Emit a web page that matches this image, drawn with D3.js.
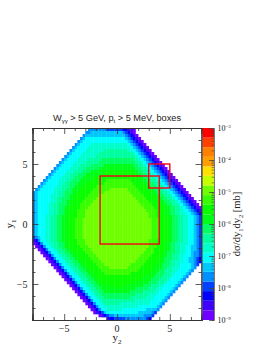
<!DOCTYPE html>
<html lang="en">
  <head>
    <meta charset="utf-8">
    <title>boxes</title>
    <script src="https://d3js.org/d3.v7.min.js"></script>
    <style>
      body { margin: 0; background: white; }
      text { font-family: "Liberation Serif", serif; fill: #222; }
    </style>
  </head>
  <body>
  <script>

  var w = 272;
  var h = 352;
  var margin = {top: 128, right: 70.5, bottom: 32, left: 32.5};
  var innerWidth = w - margin.left - margin.right;
  var innerHeight = h - margin.top - margin.bottom;

  // colour bands of the palette, bottom to top
  var bandEdges = [1e-9, 2e-9, 4e-9, 8e-9, 1.6e-8, 3.2e-8, 6.3e-8, 1.26e-7, 2.5e-7, 5e-7, 1e-6,
    2e-6, 4e-6, 8e-6, 1.6e-5, 3.2e-5, 6.3e-5, 1.26e-4, 2.5e-4, 5e-4, 1e-3];
  var bandColors = ["#7000ff", "#4000ff", "#0000ff", "#0040ff", "#0090ff", "#00c8ff", "#00ffff",
    "#00ffcc", "#00ffa0", "#00ff60", "#00ff18", "#08ff00", "#38ff00", "#70ff00", "#c8ff00",
    "#ffe000", "#ffa000", "#ff7f00", "#ff4000", "#ff0000"];
  // what a cell of each level holds in mb
  var levelValues = [1.4e-9, 2.8e-9, 5.6e-9, 1.1e-8, 2.2e-8, 4.5e-8, 9e-8, 1.8e-7, 3.5e-7, 7e-7,
    1.4e-6, 2.8e-6, 5.6e-6, 1.1e-5];

  // y1 rows from the top, runs of (level)(count), "." is an empty bin
  var cellRows = [
    ".21 47 36 22 12 01",
    ".20 42 512 41 31 21 11 01",
    ".19 41 515 41 31 21 11 01",
    ".18 41 51 615 51 41 31 21 11 01",
    ".17 41 51 617 51 41 31 21 11 01",
    ".16 41 51 64 714 61 51 41 31 21 11 01",
    ".15 41 51 64 716 61 51 41 31 21 11 01",
    ".14 41 51 64 77 89 72 61 51 41 31 21 11 01",
    ".13 41 51 64 76 813 71 61 51 41 31 21 11 01",
    ".12 41 51 64 76 815 71 61 51 41 31 21 11 01",
    ".11 41 51 64 74 85 912 82 71 61 51 41 31 21 11 01",
    ".10 41 51 64 74 85 914 82 71 61 51 41 31 21 11 01",
    ".9 41 51 64 73 84 95 a11 92 82 71 61 51 41 31 21 11 01",
    ".8 41 51 64 73 83 95 a14 92 82 71 61 51 41 31 21 11 01",
    ".7 41 51 64 73 83 93 a5 b11 a2 92 82 71 61 51 41 31 21 11 01",
    ".6 41 51 64 72 83 93 a6 b13 a2 92 82 71 61 51 41 31 21 11 01",
    ".5 41 51 64 73 82 93 a4 b17 a2 92 82 71 61 51 41 31 21 11 01",
    ".4 41 51 64 73 82 93 a4 b6 c9 b4 a2 92 82 71 61 51 41 31 21 11 01",
    ".3 41 51 65 72 82 93 a3 b7 c11 b4 a2 92 82 71 61 51 41 31 21 11 01",
    ".2 41 51 65 72 83 92 a3 b5 c15 b4 a2 92 82 71 61 51 41 31 21 11 01",
    ".1 41 51 65 73 82 92 a3 b5 c6 d7 c4 b4 a2 92 82 71 61 51 41 31 21 11 01",
    "41 51 66 72 82 93 a2 b5 c5 d10 c4 b4 a2 92 82 71 61 51 41 31 21 11 01",
    "41 51 65 73 82 92 a2 b5 c4 d13 c4 b4 a2 92 82 71 61 51 41 31 21 11 01",
    "41 51 65 72 82 93 a2 b4 c4 d15 c4 b4 a2 92 82 71 61 51 41 31 21 11 01",
    "41 51 65 72 82 92 a2 b4 c4 d17 c4 b4 a2 92 82 71 61 51 41 31 21 11 01",
    "41 51 64 72 82 93 a2 b3 c4 d19 c4 b4 a2 92 82 71 61 51 41 31 21 11 01",
    "41 51 64 72 82 92 a2 b4 c3 d21 c4 b4 a2 92 82 71 61 51 41 31 21 11 01",
    "41 51 64 72 82 92 a2 b3 c3 d23 c4 b3 a2 92 82 71 62 51 41 31 21 11",
    "41 51 64 72 82 92 a2 b3 c3 d24 c3 b3 a2 92 82 72 62 51 41 31 21",
    "41 51 63 72 82 92 a2 b4 c3 d24 c3 b4 a2 92 82 72 62 51 41 31",
    "41 51 63 72 82 92 a2 b3 c3 d26 c3 b3 a2 92 82 72 62 51 41 31",
    "41 51 63 72 82 92 a2 b3 c3 d26 c3 b3 a2 92 82 72 62 51 41 31",
    "41 51 63 72 82 92 a2 b3 c3 d26 c3 b3 a2 92 82 72 62 51 41 31",
    "41 51 63 72 82 92 a2 b3 c3 d26 c3 b3 a2 92 82 72 62 51 41 31",
    "41 51 63 72 82 92 a2 b3 c3 d26 c3 b3 a2 92 82 72 62 51 41 31",
    "41 51 63 72 82 92 a2 b3 c3 d26 c3 b3 a2 92 82 72 62 51 41 31",
    "31 41 51 62 72 82 92 a2 b3 c3 d26 c3 b3 a2 92 82 72 62 51 41 31",
    "11 21 41 62 72 82 92 a2 b4 c3 d24 c3 b4 a2 92 82 72 62 51 41 31",
    "01 11 21 41 62 72 82 92 a2 b3 c3 d24 c3 b3 a2 92 82 73 62 51 41 31",
    ".1 01 11 21 41 62 71 82 92 a2 b4 c3 d23 c3 b3 a2 92 82 72 62 52 41 31",
    ".2 01 11 21 41 62 71 82 92 a2 b4 c3 d21 c3 b4 a2 92 82 72 62 52 41 31",
    ".3 01 11 21 41 62 71 82 92 a2 b4 c3 d19 c4 b3 a2 93 82 72 62 51 42 31",
    ".4 01 11 21 41 62 71 82 92 a2 b4 c3 d17 c4 b4 a2 92 82 72 63 51 42 31",
    ".5 01 11 21 41 62 71 82 92 a2 b4 c3 d15 c4 b4 a2 93 82 72 62 52 41 31 21",
    ".6 01 11 21 41 62 71 82 92 a2 b4 c3 d13 c4 b5 a2 92 82 73 62 52 41 31 21",
    ".7 01 11 21 41 62 71 82 92 a2 b4 c3 d10 c5 b5 a2 93 82 72 64 51 41 31",
    ".8 01 11 21 41 62 71 82 92 a2 b4 c4 d7 c5 b5 a3 92 82 73 64 51 41",
    ".9 01 11 21 41 62 71 82 92 a2 b4 c14 b5 a3 92 83 72 64 51 41",
    ".10 01 11 21 41 62 71 82 92 a2 b4 c10 b7 a3 93 82 72 64 51 41",
    ".11 01 11 21 41 62 71 82 92 a2 b18 a4 93 83 71 64 51 41",
    ".12 01 11 21 41 62 71 82 92 a2 b16 a4 93 83 71 64 51 41",
    ".13 01 11 21 41 62 71 82 92 a2 b12 a6 93 83 71 64 51 41",
    ".14 01 11 21 41 62 71 82 92 a4 b6 a7 93 83 72 64 51 41",
    ".15 01 11 21 41 62 71 82 92 a13 95 83 72 64 51 41",
    ".16 01 11 21 41 62 71 82 92 a10 95 84 72 64 51 41",
    ".17 01 11 21 41 62 71 82 913 85 73 64 51 41",
    ".18 01 11 21 41 62 71 82 910 86 73 64 51 41",
    ".19 01 11 21 41 62 71 813 76 64 51 41",
    ".20 01 11 21 41 62 71 86 711 64 51 41",
    ".21 01 11 21 41 62 713 67 51 41",
    ".22 01 11 21 41 62 76 69 54 41",
    ".23 01 11 21 31 51 612 55 41 31",
    ".25 01 11 21 31 42 511 43 31",
    ".28 11 22 34 48 31 21"
  ];

  // red boxes: y2 from, y2 to, y1 from, y1 to
  var boxes = [[-1.6, 4, -1.67, 4], [3, 5, 3, 5]];
  var axisDomain = [-8, 8];
  var majorTicks = [-5, 0, 5];
  var minorTicks = [-7, -6, -4, -3, -2, -1, 1, 2, 3, 4, 6, 7];
  var colorDecades = [1e-9, 1e-8, 1e-7, 1e-6, 1e-5, 1e-4, 1e-3];
  var binSize = 0.25;

  var xScale = d3.scaleLinear().domain(axisDomain).range([0, innerWidth]);
  var yScale = d3.scaleLinear().domain(axisDomain).range([innerHeight, 0]);
  var zScale = d3.scaleLog().domain([1e-9, 1e-3]).range([innerHeight, 0]);
  var colorScale = d3.scaleThreshold()
      .domain(bandEdges.slice(1, -1))
      .range(bandColors);

  // expand the runs to bins
  var cells = [];
  cellRows.forEach(function(row, i) {
    var col = 0;
    row.split(" ").forEach(function(run) {
      var n = +run.slice(1);
      if (run[0] != ".") {
        var level = parseInt(run[0], 16);
        for (var k = 0; k < n; k++) {
          cells.push({x0: axisDomain[0] + (col + k) * binSize,
                      y1: axisDomain[1] - i * binSize,
                      value: levelValues[level]});
        }
      }
      col += n;
    });
  });

  var svg = d3.select("body")
    .append("svg")
      .attr("width", w)
      .attr("height", h)
      .style("display", "block");

  var plot = svg.append("g")
      .attr("transform", `translate (${margin.left}, ${margin.top})`);

  // add cells

  plot.append("g")
    .selectAll("rect")
    .data(cells)
    .enter()
    .append("rect")
      .attr("x", d => xScale(d.x0))
      .attr("y", d => yScale(d.y1))
      .attr("width", xScale(binSize) - xScale(0) + 0.3)
      .attr("height", yScale(0) - yScale(binSize) + 0.3)
      .attr("fill", d => colorScale(d.value));

  // add red boxes

  plot.append("g")
    .selectAll("rect")
    .data(boxes)
    .enter()
    .append("rect")
      .attr("x", d => xScale(d[0]))
      .attr("y", d => yScale(d[3]))
      .attr("width", d => xScale(d[1]) - xScale(d[0]))
      .attr("height", d => yScale(d[2]) - yScale(d[3]))
      .attr("fill", "none")
      .attr("stroke", "#f60018")
      .attr("stroke-width", 1.4);

  // add axes, ticks point inwards on all sides

  function drawAxis(maker, scale, dx, dy, values, size) {
    var g = plot.append("g")
      .attr("transform", `translate (${dx}, ${dy})`)
      .call(maker(scale).tickValues(values).tickSize(size).tickFormat(""));
    g.selectAll("text").remove();
    g.selectAll("line").attr("stroke", "#333").attr("stroke-width", 0.8);
    g.selectAll("path").attr("stroke", "#333").attr("stroke-width", 1.1);
    return g;
  }

  drawAxis(d3.axisTop, xScale, 0, innerHeight, majorTicks, 6);
  drawAxis(d3.axisTop, xScale, 0, innerHeight, minorTicks, 3);
  drawAxis(d3.axisBottom, xScale, 0, 0, majorTicks, 6);
  drawAxis(d3.axisBottom, xScale, 0, 0, minorTicks, 3);
  drawAxis(d3.axisRight, yScale, 0, 0, majorTicks, 6);
  drawAxis(d3.axisRight, yScale, 0, 0, minorTicks, 3);
  drawAxis(d3.axisLeft, yScale, innerWidth, 0, majorTicks, 6);
  drawAxis(d3.axisLeft, yScale, innerWidth, 0, minorTicks, 3);

  plot.append("g")
    .selectAll("text")
    .data(majorTicks)
    .enter()
    .append("text")
      .attr("x", d => xScale(d))
      .attr("y", innerHeight + 12)
      .attr("text-anchor", "middle")
      .attr("font-size", 10)
      .text(d => d < 0 ? "\u2212" + (-d) : d);

  plot.append("g")
    .selectAll("text")
    .data(majorTicks)
    .enter()
    .append("text")
      .attr("x", -5)
      .attr("y", d => yScale(d) + 3.5)
      .attr("text-anchor", "end")
      .attr("font-size", 10)
      .text(d => d < 0 ? "\u2212" + (-d) : d);

  // colour bar

  var barX = innerWidth + 1.2;
  var barW = 11.3;
  var bar = plot.append("g")
      .attr("transform", `translate (${barX}, 0)`);

  bar.selectAll("rect")
    .data(bandColors)
    .enter()
    .append("rect")
      .attr("x", 0)
      .attr("y", (d, i) => zScale(bandEdges[i + 1]))
      .attr("width", barW)
      .attr("height", (d, i) => zScale(bandEdges[i]) - zScale(bandEdges[i + 1]))
      .attr("fill", d => d);

  var zMinor = bar.append("g")
      .attr("transform", `translate (${barW}, 0)`)
      .call(d3.axisLeft(zScale).tickValues(zScale.ticks()).tickSize(2.5).tickFormat(""));
  zMinor.selectAll("text").remove();
  zMinor.selectAll("line").attr("stroke", "#444").attr("stroke-width", 0.6);
  zMinor.selectAll("path").attr("stroke", "#777").attr("stroke-width", 1);

  var zMajor = bar.append("g")
      .attr("transform", `translate (${barW}, 0)`)
      .call(d3.axisLeft(zScale).tickValues(colorDecades).tickSize(5).tickFormat(""));
  zMajor.selectAll("text").remove();
  zMajor.selectAll("line").attr("stroke", "#444").attr("stroke-width", 0.7);
  zMajor.selectAll("path").attr("stroke", "none");

  var zLabels = bar.append("g")
    .selectAll("text")
    .data(colorDecades)
    .enter()
    .append("text")
      .attr("x", barW + 3.5)
      .attr("y", d => zScale(d) + 3)
      .attr("font-size", 8)
      .attr("fill", "#444");
  zLabels.append("tspan").text("10");
  zLabels.append("tspan")
      .attr("dy", -3)
      .attr("font-size", 5)
      .text(d => "\u2212" + Math.round(-Math.log10(d)));

  // labels

  var title = svg.append("text")
      .attr("x", 117)
      .attr("y", 120.5)
      .attr("text-anchor", "middle")
      .style("font-family", "'Liberation Sans', sans-serif")
      .attr("font-size", 9.2);
  title.append("tspan").text("W");
  title.append("tspan").attr("dy", 2).attr("font-size", 6).text("\u03b3\u03b3");
  title.append("tspan").attr("dy", -2).text(" > 5 GeV, p");
  title.append("tspan").attr("dy", 2).attr("font-size", 6).text("t");
  title.append("tspan").attr("dy", -2).text(" > 5 MeV, boxes");

  var xlabel = svg.append("text")
      .attr("x", 117)
      .attr("y", 341)
      .attr("text-anchor", "middle")
      .attr("font-size", 11);
  xlabel.append("tspan").text("y");
  xlabel.append("tspan").attr("dy", 2.5).attr("font-size", 7).text("2");

  var ylabel = svg.append("text")
      .attr("transform", "translate (13, 224) rotate(-90)")
      .attr("text-anchor", "middle")
      .attr("font-size", 11);
  ylabel.append("tspan").text("y");
  ylabel.append("tspan").attr("dy", 2.5).attr("font-size", 7).text("1");

  var zlabel = svg.append("text")
      .attr("transform", "translate (240, 224) rotate(-90)")
      .attr("text-anchor", "middle")
      .attr("font-size", 10.5);
  zlabel.append("tspan").text("d\u03c3/dy");
  zlabel.append("tspan").attr("dy", 2.5).attr("font-size", 6.5).text("1");
  zlabel.append("tspan").attr("dy", -2.5).text("dy");
  zlabel.append("tspan").attr("dy", 2.5).attr("font-size", 6.5).text("2");
  zlabel.append("tspan").attr("dy", -2.5).text(" [mb]");

  </script>
  </body>
</html>
